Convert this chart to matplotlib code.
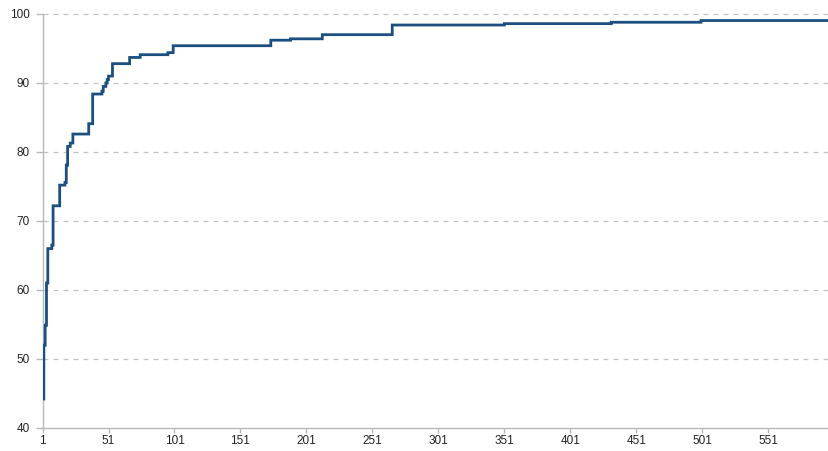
import matplotlib
matplotlib.use("Agg")
import matplotlib.pyplot as plt
import numpy as np

# Cumulative share (%) by rank: index where each new level begins, and the level
step_start = [1, 2, 3, 4, 5, 8, 9, 14, 18, 19, 20, 22, 24, 36, 39, 46, 47, 49,
              50, 51, 54, 67, 75, 96, 100, 174, 189, 213, 266, 351, 432, 500]
step_value = [44.2, 52.0, 54.9, 61.0, 66.0, 66.5, 72.2, 75.2, 75.6, 78.1, 80.8,
              81.3, 82.6, 84.1, 88.4, 88.8, 89.5, 90.0, 90.5, 91.0, 92.8, 93.7,
              94.1, 94.4, 95.4, 96.2, 96.4, 97.0, 98.4, 98.6, 98.8, 99.05]
n_points = 597

x_ticks = list(range(1, 552, 50))
y_ticks = [40, 50, 60, 70, 80, 90, 100]

# Expand the step levels into one value per rank
ranks = np.arange(1, n_points + 1)
idx = np.searchsorted(step_start, ranks, side="right") - 1
values = np.array(step_value)[idx]

plt.rcParams["font.family"] = ["Liberation Sans", "DejaVu Sans"]

fig = plt.figure(figsize=(8.29, 4.51), dpi=100)
ax = fig.add_axes([0.0513, 0.0510, 0.9487, 0.9180])

ax.step(ranks, values, where="post", color="#1c4f80", linewidth=2.0,
        solid_joinstyle="miter", zorder=3)

ax.set_xlim(1, n_points)
ax.set_ylim(40, 100)
ax.set_xticks(x_ticks)
ax.set_yticks(y_ticks)
ax.tick_params(axis="both", labelsize=8.5, color="#b8b8b8",
               width=1, labelcolor="#222222")
ax.tick_params(axis="y", length=5, pad=4)
ax.tick_params(axis="x", length=3.5, pad=1.5)

for y in y_ticks[1:]:
    ax.axhline(y, color="#c4c4c4", linewidth=0.9, linestyle=(0, (4, 4)),
               zorder=1, clip_on=False)

for side in ("top", "right"):
    ax.spines[side].set_visible(False)
for side in ("left", "bottom"):
    ax.spines[side].set_color("#b8b8b8")
    ax.spines[side].set_linewidth(1)

fig.savefig("out.png", dpi=100)
